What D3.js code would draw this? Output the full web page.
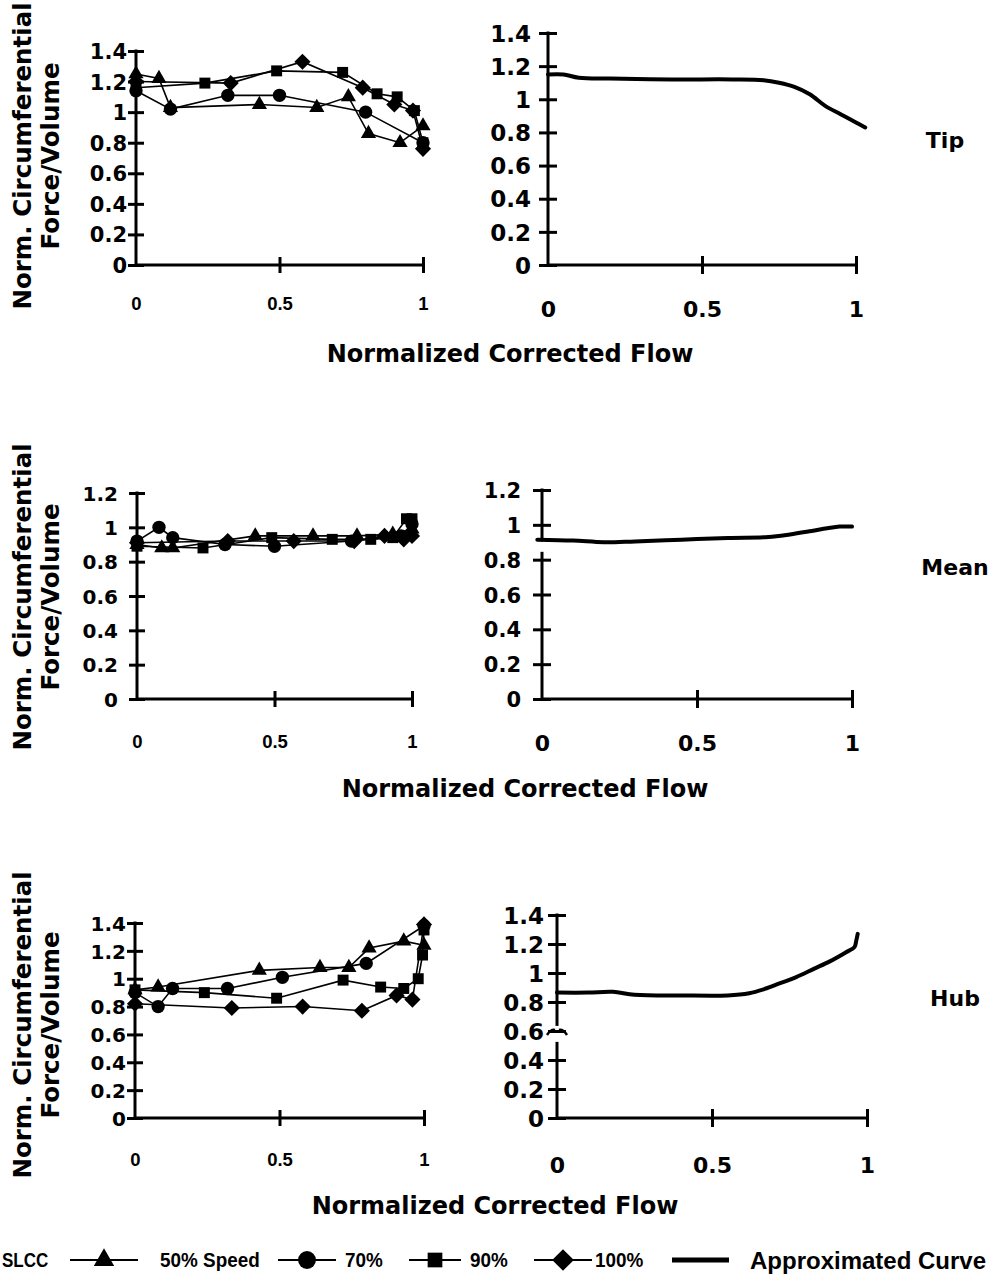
<!DOCTYPE html>
<html>
<head>
<meta charset="utf-8">
<script src="https://cdn.jsdelivr.net/npm/d3@7"></script>
<style>
html, body { margin: 0; padding: 0; background: #fff; }
svg { display: block; }
text { font-family: "DejaVu Sans", sans-serif; font-weight: bold; fill: #000; }
</style>
</head>
<body>
<svg id="chart" width="998" height="1283"></svg>
<script>
// ---- data -------------------------------------------------------------
const seriesNames = ["50% Speed", "70%", "90%", "100%"];
const xTicks = [0, 0.5, 1];
const yTicks14 = [0, 0.2, 0.4, 0.6, 0.8, 1, 1.2, 1.4];
const yTicks12 = [0, 0.2, 0.4, 0.6, 0.8, 1, 1.2];
const rowLabels = ["Tip", "Mean", "Hub"];

// Tip section: measured points [normalized flow, normalized force/volume]
const tip50  = [[0,1.25],[0.08,1.22],[0.12,1.03],[0.43,1.05],[0.63,1.03],[0.74,1.10],[0.81,0.86],[0.92,0.80],[1.0,0.91]];
const tip70  = [[0,1.14],[0.12,1.02],[0.32,1.11],[0.5,1.11],[0.8,1.0],[1.0,0.80]];
const tip90  = [[0,1.16],[0.24,1.19],[0.49,1.27],[0.72,1.26],[0.84,1.12],[0.91,1.10],[0.97,1.01],[1.0,0.80]];
const tip100 = [[0,1.2],[0.33,1.19],[0.58,1.33],[0.79,1.16],[0.9,1.05],[0.965,1.01],[1.0,0.76]];
const tipCurve = [[0,1.15],[0.05,1.15],[0.1,1.13],[0.2,1.125],[0.4,1.12],[0.6,1.12],[0.7,1.115],[0.75,1.1],[0.8,1.075],[0.85,1.03],[0.9,0.96],[0.95,0.91],[1.0,0.86],[1.03,0.83]];

// Mean section
const mean50  = [[0,0.9],[0.09,0.88],[0.13,0.88],[0.43,0.95],[0.64,0.95],[0.8,0.95],[0.93,0.96],[1.0,0.99]];
const mean70  = [[0,0.92],[0.08,1.0],[0.13,0.94],[0.32,0.90],[0.5,0.89],[0.78,0.92],[0.96,0.95],[1.0,1.02]];
const mean90  = [[0,0.89],[0.24,0.88],[0.49,0.94],[0.71,0.93],[0.85,0.93],[0.93,0.94],[0.98,1.05],[1.0,1.05]];
const mean100 = [[0,0.91],[0.33,0.92],[0.57,0.92],[0.79,0.92],[0.9,0.95],[0.97,0.93],[1.0,0.95]];
const meanCurve = [[-0.015,0.915],[0.1,0.91],[0.2,0.9],[0.3,0.905],[0.45,0.915],[0.6,0.925],[0.73,0.93],[0.8,0.945],[0.87,0.965],[0.92,0.98],[0.96,0.99],[1.0,0.99]];

// Hub section
const hub50  = [[0,0.92],[0.08,0.94],[0.43,1.06],[0.64,1.08],[0.74,1.08],[0.81,1.22],[0.93,1.27],[1.0,1.24]];
const hub70  = [[0,0.9],[0.08,0.80],[0.13,0.93],[0.32,0.93],[0.51,1.01],[0.8,1.11],[1.0,1.38]];
const hub90  = [[0,0.92],[0.24,0.90],[0.49,0.86],[0.72,0.99],[0.85,0.94],[0.93,0.93],[0.98,1.0],[0.995,1.17],[1.0,1.35]];
const hub100 = [[0,0.82],[0.335,0.79],[0.58,0.80],[0.785,0.77],[0.905,0.88],[0.96,0.85],[1.0,1.39]];
const hubCurve = [[0,0.865],[0.1,0.865],[0.18,0.87],[0.25,0.85],[0.4,0.845],[0.55,0.845],[0.62,0.86],[0.67,0.89],[0.72,0.93],[0.77,0.97],[0.83,1.03],[0.88,1.08],[0.93,1.14],[0.96,1.18],[0.965,1.22],[0.97,1.27]];

// ---- markers ----------------------------------------------------------
const squareDiamond = {
  draw(ctx, size) {
    const r = Math.sqrt(size / 2);
    ctx.moveTo(0, -r); ctx.lineTo(r, 0); ctx.lineTo(0, r); ctx.lineTo(-r, 0); ctx.closePath();
  }
};
const markerTypes = [d3.symbolTriangle, d3.symbolCircle, d3.symbolSquare, squareDiamond];
const markerSizes = [100, 140, 120, 130];

const svg = d3.select("#chart");
const fmt = d => String(+d.toFixed(1));
const narrowFamily = "Liberation Sans, Arial, sans-serif";

function drawPanel(c) {
  const x = d3.scaleLinear().domain([0, 1]).range([c.x0, c.x1]);
  const y = d3.scaleLinear().domain([0, c.yMax]).range([c.y0, c.yTop]);
  const g = svg.append("g");

  // axis lines (y axis may be broken)
  const ySegs = c.ySegs || [[0, c.yMax]];
  ySegs.forEach(s => {
    g.append("line").attr("x1", x(0)).attr("x2", x(0))
      .attr("y1", y(s[0]) + (s[0] === 0 ? 1.5 : 0)).attr("y2", y(s[1]) - (s[1] === c.yMax ? 1.5 : 0))
      .attr("stroke", "#000").attr("stroke-width", 3);
  });
  g.append("line").attr("x1", x(0)).attr("x2", x(1))
    .attr("y1", y(0)).attr("y2", y(0)).attr("stroke", "#000").attr("stroke-width", 3);

  if (c.breakAt !== undefined) {
    const by = y(c.breakAt), ax = x(0);
    g.append("path")
      .attr("d", `M${ax-10},${by+4} Q${ax-6},${by-2} ${ax-2},${by-1} M${ax+2},${by-1} Q${ax+6},${by-2} ${ax+10},${by+4}`)
      .attr("fill", "none").attr("stroke", "#000").attr("stroke-width", 2.5);
  }

  // y axis ticks and labels
  const ya = g.append("g").attr("transform", `translate(${x(0)},0)`)
    .call(d3.axisLeft(y).tickValues(c.yTicks).tickSize(0).tickFormat(fmt));
  ya.attr("font-family", null).attr("font-size", null);
  ya.select(".domain").remove();
  ya.selectAll(".tick line").attr("x1", -c.tl).attr("x2", c.tl)
    .attr("stroke", "#000").attr("stroke-width", 3);
  ya.selectAll(".tick text").attr("x", -c.yLabGap).attr("dy", "0.36em")
    .attr("font-size", c.yFont).attr("fill", "#000");

  // x axis ticks and labels
  const xa = g.append("g").attr("transform", `translate(0,${y(0)})`)
    .call(d3.axisBottom(x).tickValues(xTicks).tickSize(0).tickFormat(fmt));
  xa.attr("font-family", null).attr("font-size", null);
  xa.select(".domain").remove();
  xa.selectAll(".tick line").attr("y1", d => d === 0 ? 0 : -c.tl).attr("y2", d => d === 0 ? 0 : c.tl)
    .attr("stroke", "#000").attr("stroke-width", 3);
  xa.selectAll(".tick text").attr("y", c.xLabOff).attr("dy", 0)
    .attr("font-size", c.xFont).attr("fill", "#000")
    .style("font-family", c.xFamily || null);

  // measured series
  if (c.series) {
    const line = d3.line().x(d => x(d[0])).y(d => y(d[1]));
    c.series.forEach(s => {
      g.append("path").attr("d", line(s)).attr("fill", "none")
        .attr("stroke", "#000").attr("stroke-width", 1.6);
    });
    c.series.forEach((s, i) => {
      g.selectAll(null).data(s).join("path")
        .attr("transform", d => `translate(${x(d[0])},${y(d[1])})`)
        .attr("d", d3.symbol().type(markerTypes[i]).size(markerSizes[i]))
        .attr("fill", "#000");
    });
  }
  // approximated curve
  if (c.curve) {
    const line = d3.line().x(d => x(d[0])).y(d => y(d[1])).curve(d3.curveCatmullRom);
    g.append("path").attr("d", line(c.curve)).attr("fill", "none")
      .attr("stroke", "#000").attr("stroke-width", 4).attr("stroke-linecap", "round");
  }
}

// ---- panels -----------------------------------------------------------
const leftX = { tl: 8, xFont: 18.5, xFamily: narrowFamily };
const rightX = { tl: 9, xFont: 22 };

drawPanel({ ...leftX, x0: 136, x1: 423, y0: 265, yTop: 51, yMax: 1.4, yTicks: yTicks14,
  yFont: 21, yLabGap: 9, xLabOff: 45, series: [tip50, tip70, tip90, tip100] });
drawPanel({ ...rightX, x0: 548, x1: 856, y0: 265, yTop: 33, yMax: 1.4, yTicks: yTicks14,
  yFont: 23, yLabGap: 17, xLabOff: 52, curve: tipCurve });

drawPanel({ ...leftX, x0: 137, x1: 412, y0: 699, yTop: 493, yMax: 1.2, yTicks: yTicks12,
  yFont: 20, yLabGap: 19, xLabOff: 49, series: [mean50, mean70, mean90, mean100] });
drawPanel({ ...rightX, x0: 542, x1: 852, y0: 699, yTop: 490, yMax: 1.2, yTicks: yTicks12,
  yFont: 21, yLabGap: 21, xLabOff: 52, curve: meanCurve, ySegs: [[0, 0.845], [0.905, 1.2]] });

drawPanel({ ...leftX, x0: 135, x1: 424, y0: 1118, yTop: 923, yMax: 1.4, yTicks: yTicks14,
  yFont: 20, yLabGap: 9, xLabOff: 48, series: [hub50, hub70, hub90, hub100] });
drawPanel({ ...rightX, x0: 557, x1: 867, y0: 1118, yTop: 915, yMax: 1.4, yTicks: yTicks14,
  yFont: 23, yLabGap: 13, xLabOff: 55, curve: hubCurve, ySegs: [[0, 0.525], [0.635, 1.4]], breakAt: 0.6 });

// ---- titles -----------------------------------------------------------
const rows = [
  { xTitle: [510, 362], yMid: 156, label: [945, 148] },
  { xTitle: [525, 797], yMid: 597, label: [955, 575] },
  { xTitle: [495, 1214], yMid: 1025, label: [955, 1006] }
];
rows.forEach((r, i) => {
  svg.append("text").attr("x", r.xTitle[0]).attr("y", r.xTitle[1])
    .attr("text-anchor", "middle").attr("font-size", 24).text("Normalized Corrected Flow");
  svg.append("text").attr("transform", `translate(31,${r.yMid}) rotate(-90)`)
    .attr("text-anchor", "middle").attr("font-size", 24.5).text("Norm. Circumferential");
  svg.append("text").attr("transform", `translate(59,${r.yMid}) rotate(-90)`)
    .attr("text-anchor", "middle").attr("font-size", 24.5).text("Force/Volume");
  svg.append("text").attr("x", r.label[0]).attr("y", r.label[1])
    .attr("text-anchor", "middle").attr("font-size", 22).text(rowLabels[i]);
});

// ---- legend (condensed lettering) -------------------------------------
const ly = 1260;
const legendItems = [
  { line: [70, 138], mark: 104, text: 160 },
  { line: [278, 336], mark: 307, text: 345 },
  { line: [409, 461], mark: 435, text: 470 },
  { line: [534, 592], mark: 563, text: 595 }
];
const lg = svg.append("g").style("font-family", narrowFamily);
function legendText(x, y, size, sx, str) {
  lg.append("text").attr("transform", `translate(${x},${y}) scale(${sx},1)`)
    .attr("font-size", size).style("font-family", narrowFamily).text(str);
}
legendText(2, ly + 7, 20, 0.85, "SLCC");
legendItems.forEach((it, i) => {
  lg.append("line").attr("x1", it.line[0]).attr("x2", it.line[1]).attr("y1", ly).attr("y2", ly)
    .attr("stroke", "#000").attr("stroke-width", 2);
  lg.append("path").attr("transform", `translate(${it.mark},${ly})`)
    .attr("d", d3.symbol().type(markerTypes[i]).size(markerSizes[i] * 1.8)).attr("fill", "#000");
  legendText(it.text, ly + 7, 21, 0.9, seriesNames[i]);
});
lg.append("line").attr("x1", 672).attr("x2", 729).attr("y1", ly).attr("y2", ly)
  .attr("stroke", "#000").attr("stroke-width", 5);
legendText(750, ly + 9, 24, 1, "Approximated Curve");
</script>
</body>
</html>
